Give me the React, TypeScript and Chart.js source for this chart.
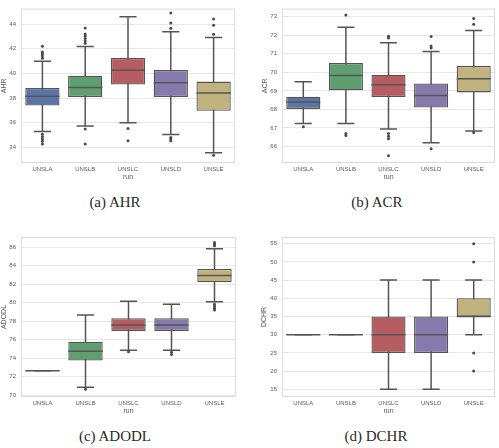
import React, { useEffect, useRef } from "react";
import { Chart, registerables } from "chart.js";
Chart.register(...registerables);

const categories = ["UNSLA", "UNSLB", "UNSLC", "UNSLD", "UNSLE"];
const boxColors = ["#5875A4", "#5F9E6E", "#B55D60", "#857AAB", "#C1B37F"];
const xTitle = "run";

// (a) AHR
const ahrQ1 = [37.4, 38.1, 39.1, 38.1, 36.97];
const ahrMedian = [38.16, 38.87, 40.26, 39.24, 38.42];
const ahrQ3 = [38.82, 39.82, 41.26, 40.29, 39.34];
const ahrLow = [35.29, 35.74, 36.0, 35.05, 33.58];
const ahrHigh = [41.0, 42.18, 44.6, 43.39, 42.92];
const ahrOutliers = [
  [42.2, 41.74, 41.58, 41.42, 41.24, 35.08, 34.87, 34.68, 34.5, 34.29],
  [43.68, 43.2, 43.03, 42.84, 42.63, 42.45, 35.5, 34.29],
  [35.53, 34.55],
  [44.9, 44.1, 43.66, 34.8, 34.7, 34.55],
  [44.42, 43.9, 43.18, 33.37],
];
const ahrTicks = [34, 36, 38, 40, 42, 44];
const ahrRange = [32.74, 45.26];

// (b) ACR
const acrQ1 = [68.03, 69.03, 68.67, 68.1, 68.92];
const acrMedian = [68.4, 69.83, 69.33, 68.75, 69.66];
const acrQ3 = [68.69, 70.5, 69.87, 69.4, 70.35];
const acrLow = [67.24, 67.24, 66.95, 66.2, 66.84];
const acrHigh = [69.49, 72.43, 71.6, 71.13, 72.26];
const acrOutliers = [
  [67.07],
  [73.1, 66.7, 66.6],
  [71.95, 71.85, 66.7, 66.55, 66.42, 65.5],
  [71.93, 71.42, 71.32, 65.88],
  [72.9, 72.6, 66.75],
];
const acrTicks = [66, 67, 68, 69, 70, 71, 72, 73];
const acrRange = [65.11, 73.44];

// (c) ADODL
const adodlQ1 = [72.65, 73.75, 76.95, 76.95, 82.2];
const adodlMedian = [72.65, 74.76, 77.6, 77.6, 82.92];
const adodlQ3 = [72.65, 75.78, 78.32, 78.32, 83.64];
const adodlLow = [72.65, 70.87, 74.87, 74.87, 80.1];
const adodlHigh = [72.65, 78.67, 80.14, 79.82, 85.82];
const adodlOutliers = [
  [],
  [70.65],
  [74.7],
  [74.64, 74.4],
  [86.5, 86.3, 86.14, 79.83, 79.6, 79.4, 79.2],
];
const adodlTicks = [70, 72, 74, 76, 78, 80, 82, 84, 86];
const adodlRange = [69.82, 87.08];

// (d) DCHR
const dchrQ1 = [30, 30, 25, 25, 35];
const dchrMedian = [30, 30, 30, 30, 35];
const dchrQ3 = [30, 30, 35, 35, 40];
const dchrLow = [30, 30, 15, 15, 30];
const dchrHigh = [30, 30, 45, 45, 45];
const dchrOutliers = [[], [], [], [], [55, 50, 25, 20]];
const dchrTicks = [15, 20, 25, 30, 35, 40, 45, 50, 55];
const dchrRange = [12.88, 56.84];

const LINE = "#555555";
const GRID = "#e6e6e6";
const TEXT = "#5a5a5a";

type Spec = {
  title: string;
  q1: number[];
  median: number[];
  q3: number[];
  low: number[];
  high: number[];
  outliers: number[][];
  ticks: number[];
  range: number[];
};

type Box = {
  left: number;
  top: number;
  width: number;
  height: number;
  padTop: number;
  padRight: number;
  yAxisWidth: number;
  xAxisHeight: number;
  yTitlePad: number;
};

function makePlugin(spec: Spec) {
  return {
    id: "boxWhiskers",
    beforeDatasetsDraw(chart: any) {
      const ctx = chart.ctx;
      const area = chart.chartArea;
      const y = chart.scales.y;
      ctx.save();
      ctx.strokeStyle = "#dcdcdc";
      ctx.lineWidth = 1;
      ctx.strokeRect(area.left + 0.5, area.top + 0.5, area.right - area.left - 1, area.bottom - area.top - 1);
      const meta = chart.getDatasetMeta(0);
      ctx.strokeStyle = LINE;
      ctx.lineWidth = 1.5;
      meta.data.forEach((bar: any, i: number) => {
        const x = bar.x;
        const half = bar.width / 4;
        const yl = y.getPixelForValue(spec.low[i]);
        const yh = y.getPixelForValue(spec.high[i]);
        ctx.beginPath();
        ctx.moveTo(x, yl);
        ctx.lineTo(x, yh);
        ctx.moveTo(x - half, yl);
        ctx.lineTo(x + half, yl);
        ctx.moveTo(x - half, yh);
        ctx.lineTo(x + half, yh);
        ctx.stroke();
      });
      ctx.restore();
    },
    afterDatasetsDraw(chart: any) {
      const ctx = chart.ctx;
      const y = chart.scales.y;
      const meta = chart.getDatasetMeta(0);
      ctx.save();
      ctx.strokeStyle = LINE;
      ctx.lineWidth = 1.5;
      meta.data.forEach((bar: any, i: number) => {
        const x = bar.x;
        const half = bar.width / 2;
        const ym = y.getPixelForValue(spec.median[i]);
        ctx.beginPath();
        ctx.moveTo(x - half, ym);
        ctx.lineTo(x + half, ym);
        ctx.stroke();
      });
      ctx.restore();
    },
  };
}

function BoxChart({ spec, box }: { spec: Spec; box: Box }) {
  const ref = useRef<HTMLCanvasElement | null>(null);
  useEffect(() => {
    if (!ref.current) return;
    const outlierPoints: { x: string; y: number }[] = [];
    spec.outliers.forEach((arr, i) => arr.forEach((v) => outlierPoints.push({ x: categories[i], y: v })));
    const chart = new Chart(ref.current, {
      type: "bar",
      data: {
        labels: categories,
        datasets: [
          {
            type: "bar",
            data: spec.q1.map((v, i) => [v, spec.q3[i]]),
            backgroundColor: boxColors,
            borderColor: LINE,
            borderWidth: 1.3,
            borderSkipped: false,
            barPercentage: 0.8,
            categoryPercentage: 1.0,
            order: 2,
          } as any,
          {
            type: "scatter",
            data: outlierPoints,
            pointRadius: 1.5,
            pointBackgroundColor: "#4a4a4a",
            pointBorderWidth: 0,
            showLine: false,
            order: 1,
          } as any,
        ],
      },
      options: {
        responsive: false,
        devicePixelRatio: 1,
        animation: false,
        layout: { padding: { top: box.padTop, right: box.padRight, left: 0, bottom: 0 } },
        plugins: { legend: { display: false }, tooltip: { enabled: false } },
        scales: {
          x: {
            type: "category",
            labels: categories,
            grid: { display: false, drawTicks: false },
            border: { display: false },
            ticks: {
              color: TEXT,
              font: { family: "Liberation Sans", size: 6 },
              padding: 3,
              maxRotation: 0,
              autoSkip: false,
            },
            title: {
              display: true,
              text: xTitle,
              color: TEXT,
              font: { family: "Liberation Sans", size: 7 },
              padding: { top: 0, bottom: 4 },
            },
            afterFit: (s: any) => {
              s.height = box.xAxisHeight;
            },
          },
          y: {
            type: "linear",
            min: spec.range[0],
            max: spec.range[1],
            grid: { color: GRID, lineWidth: 1, drawTicks: false },
            border: { display: false },
            ticks: {
              color: TEXT,
              font: { family: "Liberation Sans", size: 6 },
              padding: 5,
              autoSkip: false,
            },
            title: {
              display: true,
              text: spec.title,
              color: TEXT,
              font: { family: "Liberation Sans", size: 7 },
              padding: { top: box.yTitlePad, bottom: 0 },
            },
            afterBuildTicks: (s: any) => {
              s.ticks = spec.ticks.map((v) => ({ value: v }));
            },
            afterFit: (s: any) => {
              s.width = box.yAxisWidth;
            },
          },
        },
      } as any,
      plugins: [makePlugin(spec)],
    });
    return () => chart.destroy();
  }, []);
  return (
    <canvas
      ref={ref}
      width={box.width}
      height={box.height}
      style={{ position: "absolute", left: box.left, top: box.top, width: box.width, height: box.height }}
    />
  );
}

const captionStyle: React.CSSProperties = {
  position: "absolute",
  width: 230,
  textAlign: "center",
  fontFamily: "'Liberation Serif', serif",
  fontSize: 15,
  lineHeight: "18px",
  color: "#2a2a2a",
};

export default function App() {
  const specA: Spec = { title: "AHR", q1: ahrQ1, median: ahrMedian, q3: ahrQ3, low: ahrLow, high: ahrHigh, outliers: ahrOutliers, ticks: ahrTicks, range: ahrRange };
  const specB: Spec = { title: "ACR", q1: acrQ1, median: acrMedian, q3: acrQ3, low: acrLow, high: acrHigh, outliers: acrOutliers, ticks: acrTicks, range: acrRange };
  const specC: Spec = { title: "ADODL", q1: adodlQ1, median: adodlMedian, q3: adodlQ3, low: adodlLow, high: adodlHigh, outliers: adodlOutliers, ticks: adodlTicks, range: adodlRange };
  const specD: Spec = { title: "DCHR", q1: dchrQ1, median: dchrMedian, q3: dchrQ3, low: dchrLow, high: dchrHigh, outliers: dchrOutliers, ticks: dchrTicks, range: dchrRange };
  return (
    <div style={{ position: "absolute", left: 0, top: 0, width: 499, height: 448, background: "#ffffff", overflow: "hidden" }}>
      <BoxChart spec={specA} box={{ left: 0, top: 0, width: 250, height: 185, padTop: 4, padRight: 15, yAxisWidth: 21, xAxisHeight: 22, yTitlePad: 0 }} />
      <BoxChart spec={specB} box={{ left: 250, top: 0, width: 249, height: 185, padTop: 3, padRight: 2, yAxisWidth: 32, xAxisHeight: 22, yTitlePad: 11 }} />
      <BoxChart spec={specC} box={{ left: 0, top: 225, width: 250, height: 194, padTop: 12, padRight: 14, yAxisWidth: 21, xAxisHeight: 22, yTitlePad: 0 }} />
      <BoxChart spec={specD} box={{ left: 250, top: 225, width: 249, height: 194, padTop: 12, padRight: 2, yAxisWidth: 32, xAxisHeight: 22, yTitlePad: 10 }} />
      <div style={{ ...captionStyle, left: 0, top: 193 }}>(a) AHR</div>
      <div style={{ ...captionStyle, left: 262, top: 193 }}>(b) ACR</div>
      <div style={{ ...captionStyle, left: 0, top: 427 }}>(c) ADODL</div>
      <div style={{ ...captionStyle, left: 261, top: 427 }}>(d) DCHR</div>
    </div>
  );
}
